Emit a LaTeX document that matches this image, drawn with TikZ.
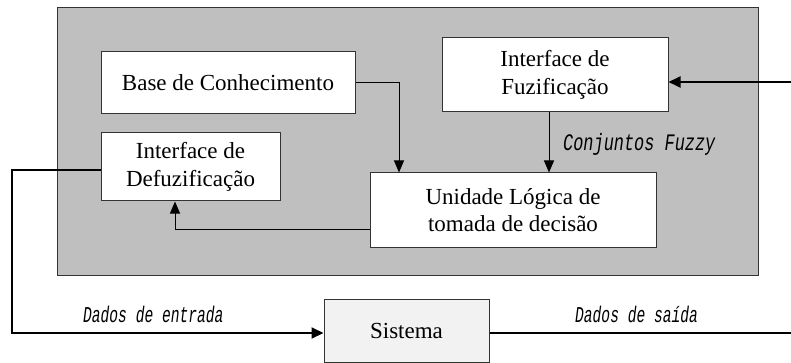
\documentclass[tikz,border=0pt]{standalone}
\usepackage{graphicx}
\usepackage{fontspec}
\setmainfont{Liberation Serif}
\newfontfamily\labelfont{Liberation Mono}
\usetikzlibrary{arrows.meta}
\begin{document}
\begin{tikzpicture}[x=1pt,y=-1pt,
  boxstyle/.style={draw=black!80,line width=1pt,fill=white,inner sep=0pt,align=center,
    font=\fontsize{23}{27.5}\selectfont},
  thinarrow/.style={line width=1pt,-{Triangle[length=12pt,width=10pt]}},
  thickarrow/.style={line width=2pt,-{Triangle[length=12pt,width=11pt]}},
  thickline/.style={line width=2pt},
  lbl/.style={font=\labelfont\itshape\fontsize{16.9}{20}\selectfont,inner sep=0pt}]
\useasboundingbox (0,0) rectangle (791,363);
\node[draw=black!80,line width=1pt,fill=black!25,minimum width=701pt,minimum height=267pt,inner sep=0pt] (frame) at (407.5,141.5) {};
\node[boxstyle,minimum width=254pt,minimum height=62pt] (base) at (228,83) {Base de Conhecimento};
\node[boxstyle,minimum width=226pt,minimum height=74pt] (fuz) at (555,75) {Interface de\\Fuzificação};
\node[boxstyle,minimum width=179pt,minimum height=68pt] (defuz) at (190.5,167) {Interface de\\Defuzificação};
\node[boxstyle,minimum width=286pt,minimum height=74pt] (ul) at (513,210) {Unidade Lógica de\\tomada de decisão};
\node[boxstyle,fill=black!5,minimum width=165pt,minimum height=63pt] (sis) at (406.5,330.5) {Sistema};
\coordinate (inR) at (791,82);
\coordinate (outR) at (791,333);
\coordinate (loopTL) at (12,170);
\coordinate (loopBL) at (12,333);
\draw[thinarrow] (base.east) -| (399,0 |- ul.north);
\draw[thinarrow] (fuz.south -| 549,0) -- (549,0 |- ul.north);
\draw[thinarrow] (ul.west |- 0,229) -| (175,0 |- defuz.south);
\draw[thickarrow] (inR) -- (fuz.east |- inR);
\draw[thickarrow] (defuz.west |- loopTL) -- (loopTL) -- (loopBL) -- (sis.west |- loopBL);
\draw[thickline] (sis.east |- outR) -- (outR);
\node[lbl,anchor=west] (cf) at (563,144) {\scalebox{1}[1.4]{Conjuntos Fuzzy}};
\node[lbl,anchor=west,font=\labelfont\itshape\fontsize{14.6}{18}\selectfont] (de) at (83,314) {\scalebox{1}[1.55]{Dados de entrada}};
\node[lbl,anchor=west,font=\labelfont\itshape\fontsize{14.6}{18}\selectfont] (ds) at (575,314) {\scalebox{1}[1.55]{Dados de saída}};
\end{tikzpicture}
\end{document}
